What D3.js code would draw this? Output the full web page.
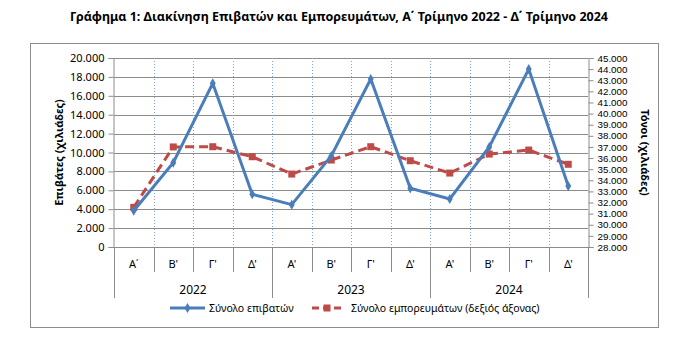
<!DOCTYPE html>
<html>
<head>
<meta charset="utf-8">
<script src="https://cdn.jsdelivr.net/npm/d3@7"></script>
<style>
body{margin:0;background:#fff;}
text{font-family:"Noto Sans","Open Sans",sans-serif;fill:#000;}
</style>
</head>
<body>
<svg id="chart" width="680" height="354"></svg>
<script>
// data
var years = ["2022","2023","2024"];
var quarters = ["Α΄","Β'","Γ'","Δ'","Α'","Β'","Γ'","Δ'","Α'","Β'","Γ'","Δ'"];
var passengers = [3840, 8920, 17320, 5580, 4480, 9630, 17780, 6210, 5080, 10580, 18830, 6450];
var cargo = [31570, 37000, 37020, 36120, 34560, 35820, 37020, 35760, 34650, 36360, 36720, 35440];
var leftTicks = d3.range(0, 20001, 2000);
var rightTicks = d3.range(28000, 45001, 1000);

var blue = "#4a7ebb", red = "#be4b48";
var fmt = function(v){ return d3.format(",")(v).replace(/,/g, "."); };

var svg = d3.select("#chart");

// title
svg.append("text")
   .attr("x", 339).attr("y", 21)
   .attr("text-anchor", "middle")
   .style("font-size", "12.5px").style("font-weight", "bold")
   .text("Γράφημα 1: Διακίνηση Επιβατών και Εμπορευμάτων, Α΄ Τρίμηνο 2022 - Δ΄ Τρίμηνο 2024");

// outer frame
svg.append("rect")
   .attr("x", 30.5).attr("y", 43.5).attr("width", 628).attr("height", 284)
   .attr("fill", "none").attr("stroke", "#8c8c8c");

var pL = 114, pR = 588, pT = 58, pB = 247;

var idx = d3.range(quarters.length);
var x = d3.scaleBand().domain(idx).range([pL, pR]);
var yL = d3.scaleLinear().domain([0, 20000]).range([pB, pT]);
var yR = d3.scaleLinear().domain([28000, 45000]).range([pB, pT]);

// horizontal grid
svg.append("g").selectAll("line").data(leftTicks.slice(1)).enter().append("line")
   .attr("x1", pL).attr("x2", pR)
   .attr("y1", d => Math.round(yL(d)) + 0.5).attr("y2", d => Math.round(yL(d)) + 0.5)
   .attr("stroke", "#8c8c8c").attr("stroke-width", 1);

// vertical dotted grid between categories
svg.append("g").selectAll("line").data(idx.slice(1)).enter().append("line")
   .attr("x1", d => Math.round(x(d)) + 0.5).attr("x2", d => Math.round(x(d)) + 0.5)
   .attr("y1", pT).attr("y2", pB)
   .attr("stroke", "#7fa5dc").attr("stroke-width", 1).attr("stroke-dasharray", "1,2");

// left axis
var axL = svg.append("g").attr("transform", "translate(" + (pL - 0.5) + ",0)")
   .call(d3.axisLeft(yL).tickValues(leftTicks).tickFormat(fmt).tickSize(5).tickPadding(4));
axL.select(".domain").attr("stroke", "#8c8c8c");
axL.selectAll(".tick line").attr("stroke", "#8c8c8c");
axL.selectAll("text").style("font-size", "11px").style("font-family", "'Noto Sans',sans-serif").attr("fill", "#000");

// right axis (tight ticks, so a font with short line metrics)
var axR = svg.append("g").attr("transform", "translate(" + (pR + 0.5) + ",0)")
   .call(d3.axisRight(yR).tickValues(rightTicks).tickFormat(fmt).tickSize(5).tickPadding(4));
axR.select(".domain").attr("stroke", "#8c8c8c");
axR.selectAll(".tick line").attr("stroke", "#8c8c8c");
axR.selectAll("text").style("font-size", "9.8px").style("font-family", "'Liberation Sans',sans-serif").attr("fill", "#000");

// category axis: baseline and separators
svg.append("line").attr("x1", pL).attr("x2", pR)
   .attr("y1", pB + 0.5).attr("y2", pB + 0.5).attr("stroke", "#8c8c8c");
svg.append("g").selectAll("line").data(d3.range(quarters.length + 1)).enter().append("line")
   .attr("x1", d => Math.round(pL + d * x.step()) + 0.5)
   .attr("x2", d => Math.round(pL + d * x.step()) + 0.5)
   .attr("y1", pB)
   .attr("y2", d => d % 4 == 0 ? 298 : 272)
   .attr("stroke", "#8c8c8c");

svg.append("g").selectAll("text").data(quarters).enter().append("text")
   .attr("x", (d, i) => x(i) + x.bandwidth() / 2).attr("y", 268)
   .attr("text-anchor", "middle").style("font-size", "11px")
   .text(d => d);

svg.append("g").selectAll("text").data(years).enter().append("text")
   .attr("x", (d, i) => x(i * 4) + x.step() * 2).attr("y", 294)
   .attr("text-anchor", "middle").style("font-size", "12px")
   .text(d => d);

// axis titles
svg.append("text")
   .attr("transform", "translate(63," + ((pT + pB) / 2) + ") rotate(-90)")
   .attr("text-anchor", "middle").style("font-size", "11px").style("font-weight", "bold")
   .text("Επιβάτες  (χιλιάδες)");
svg.append("text")
   .attr("transform", "translate(641," + ((pT + pB) / 2) + ") rotate(90)")
   .attr("text-anchor", "middle").style("font-size", "11px").style("font-weight", "bold")
   .text("Τόνοι  (χιλιάδες)");

// series
var cx = i => x(i) + x.bandwidth() / 2;

svg.append("path").datum(cargo)
   .attr("fill", "none").attr("stroke", red).attr("stroke-width", 3)
   .attr("stroke-dasharray", "9,5")
   .attr("d", d3.line().x((d, i) => cx(i)).y(d => yR(d)));
svg.append("g").selectAll("rect").data(cargo).enter().append("rect")
   .attr("x", (d, i) => cx(i) - 3.5).attr("y", d => yR(d) - 3.5)
   .attr("width", 7).attr("height", 7).attr("fill", red);

svg.append("path").datum(passengers)
   .attr("fill", "none").attr("stroke", blue).attr("stroke-width", 3)
   .attr("d", d3.line().x((d, i) => cx(i)).y(d => yL(d)));
var diamond = d3.symbol().type(d3.symbolDiamond).size(30);
svg.append("g").selectAll("path").data(passengers).enter().append("path")
   .attr("transform", (d, i) => "translate(" + cx(i) + "," + yL(d) + ")")
   .attr("d", diamond).attr("fill", blue);

// legend
var lg = svg.append("g");
lg.append("line").attr("x1", 170).attr("x2", 205).attr("y1", 308).attr("y2", 308)
  .attr("stroke", blue).attr("stroke-width", 3);
lg.append("path").attr("transform", "translate(187.5,308)").attr("d", diamond).attr("fill", blue);
lg.append("text").attr("x", 209).attr("y", 312).style("font-size", "10.5px").text("Σύνολο επιβατών");

lg.append("line").attr("x1", 312).attr("x2", 342).attr("y1", 308).attr("y2", 308)
  .attr("stroke", red).attr("stroke-width", 3).attr("stroke-dasharray", "7,4");
lg.append("rect").attr("x", 323.5).attr("y", 304.5).attr("width", 7).attr("height", 7).attr("fill", red);
lg.append("text").attr("x", 351).attr("y", 312).style("font-size", "10.5px").text("Σύνολο εμπορευμάτων (δεξιός άξονας)");
</script>
</body>
</html>
